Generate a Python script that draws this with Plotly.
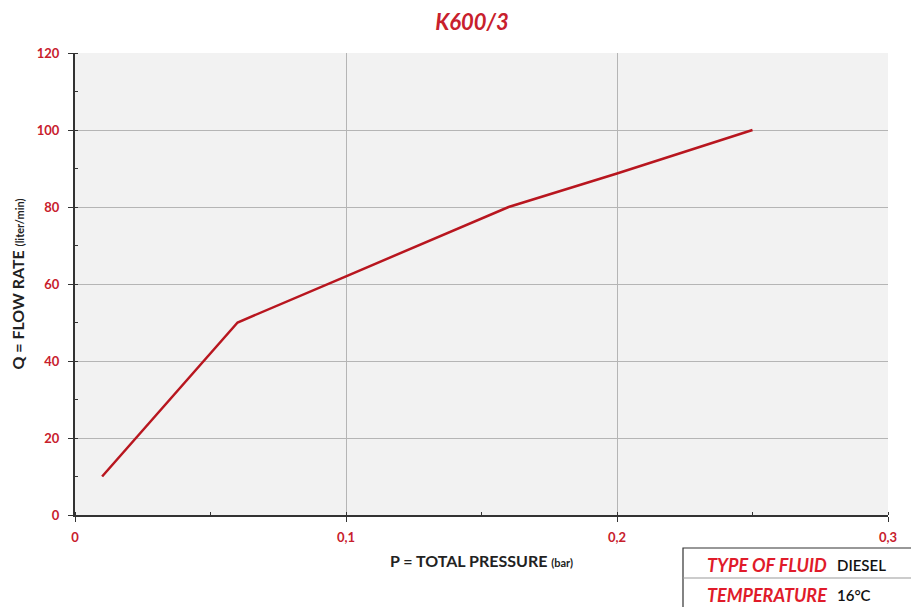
import plotly.graph_objects as go

pressure = [0.01, 0.06, 0.10, 0.16, 0.20, 0.25]
flow = [10, 50, 62, 80, 88.7, 100]

x_tickvals = [0, 0.1, 0.2, 0.3]
x_ticktext = ["0", "0,1", "0,2", "0,3"]
y_tickvals = [0, 20, 40, 60, 80, 100, 120]

RED = "#c8202c"
LINE = "#b8161f"
FONT = "Lato"

# page body has an 8px margin, so the figure is sized to fit the window
W, H = 911, 599
ML, MR, MT, MB = 67, 31, 45, 92

fig = go.Figure()
fig.add_trace(go.Scatter(x=pressure, y=flow, mode="lines",
                         line=dict(color=LINE, width=2.5), hoverinfo="skip"))

fig.update_layout(
    width=W, height=H,
    margin=dict(l=ML, r=MR, t=MT, b=MB),
    paper_bgcolor="white", plot_bgcolor="#f2f2f2",
    showlegend=False,
    font=dict(family=FONT),
    title=dict(text="<b><i>K600/3</i></b>", x=464 / W, xanchor="center", y=1 - 14 / H, yanchor="middle",
               font=dict(family=FONT, size=22, color=RED)),
    xaxis=dict(range=[0, 0.3], tickvals=x_tickvals, ticktext=x_ticktext,
               automargin=False,
               showgrid=True, gridcolor="#b5b5b5", gridwidth=1,
               showline=True, linecolor="#333333", linewidth=2,
               ticks="outside", ticklen=5, tickcolor="#333333",
               minor=dict(dtick=0.05, tick0=0, ticks="inside", ticklen=3, tickcolor="#333333", showgrid=False),
               tickfont=dict(family=FONT, size=13, color=RED, weight="bold"),
               ticklabelstandoff=4,
               zeroline=False,
               title=dict(text="<b>P = TOTAL PRESSURE <span style='font-size:11px'>(bar)</span></b>",
                          font=dict(family=FONT, size=16, color="#222222"), standoff=12)),
    yaxis=dict(range=[0, 120], tickvals=y_tickvals,
               automargin=False,
               showgrid=True, gridcolor="#b5b5b5", gridwidth=1,
               showline=True, linecolor="#333333", linewidth=2,
               ticks="outside", ticklen=5, tickcolor="#333333",
               minor=dict(dtick=10, tick0=0, ticks="inside", ticklen=3, tickcolor="#333333", showgrid=False),
               tickfont=dict(family=FONT, size=13, color=RED, weight="bold"),
               ticklabelstandoff=6,
               zeroline=False,
               title=dict(text="<b>Q = FLOW RATE <span style='font-size:11px'>(liter/min)</span></b>",
                          font=dict(family=FONT, size=16, color="#222222"), standoff=12)),
)

pw = W - ML - MR
ph = H - MT - MB

def px(xp):
    return (xp - ML) / pw

def py(yp):
    return (H - MB - yp) / ph

fig.add_shape(type="rect", xref="paper", yref="paper",
              x0=px(675), x1=px(W + 5), y0=py(540), y1=py(H + 5),
              line=dict(color="#333333", width=1.2), fillcolor="white", layer="above")
fig.add_shape(type="line", xref="paper", yref="paper",
              x0=px(675), x1=px(W + 5), y0=py(570), y1=py(570),
              line=dict(color="#999999", width=1), layer="above")

labels = ["TYPE OF FLUID", "TEMPERATURE"]
values = ["DIESEL", "16°C"]
rows_y = [557, 587]
for lab, val, yy in zip(labels, values, rows_y):
    fig.add_annotation(xref="paper", yref="paper", x=px(821), y=py(yy),
                       text=f"<b><i>{lab}</i></b>", showarrow=False,
                       xanchor="right", yanchor="middle",
                       font=dict(family=FONT, size=18, color="#e01b2a"))
    fig.add_annotation(xref="paper", yref="paper", x=px(827), y=py(yy),
                       text=val, showarrow=False,
                       xanchor="left", yanchor="middle",
                       font=dict(family=FONT, size=15, color="#111111", weight=600))

fig.write_html("out.html")
